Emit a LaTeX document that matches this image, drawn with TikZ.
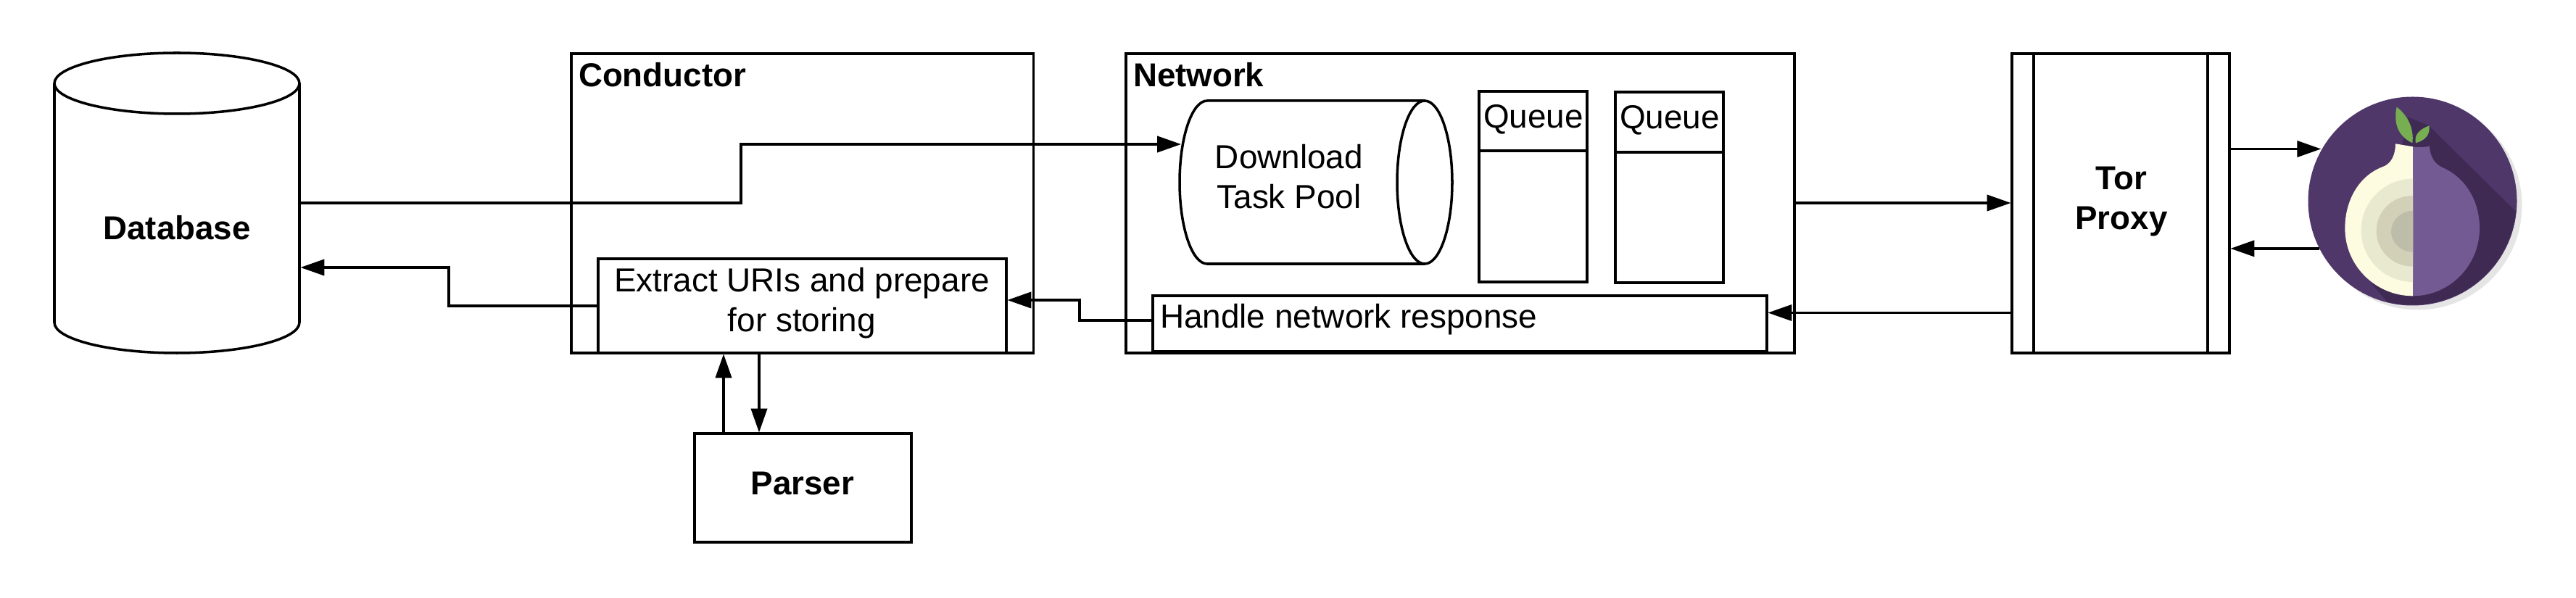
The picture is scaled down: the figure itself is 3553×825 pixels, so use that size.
\documentclass[tikz,border=0pt]{standalone}
\usepackage{fontspec}
\setmainfont{Liberation Sans}
\usetikzlibrary{arrows.meta}
\definecolor{torbg}{HTML}{50376A}
\definecolor{torshade}{HTML}{3F2A54}
\definecolor{torpurple}{HTML}{735A93}
\definecolor{torcream}{HTML}{FDFCE0}
\definecolor{torringa}{HTML}{E9E9D0}
\definecolor{torringb}{HTML}{D2D1B8}
\definecolor{torringc}{HTML}{BEBDAA}
\definecolor{torleaf}{HTML}{78AE52}
\definecolor{torcast}{HTML}{E5E5E5}
\tikzset{
  outline/.style={line width=1pt,draw=black},
  boxnode/.style 2 args={outline,rectangle,inner sep=0pt,outer sep=0pt,minimum width=#1*0.01cm,minimum height=#2*0.01cm},
  ghostnode/.style 2 args={rectangle,inner sep=0pt,outer sep=0pt,minimum width=#1*0.01cm,minimum height=#2*0.01cm},
  plain/.style={inner sep=0pt,outer sep=0pt,anchor=base,font=\fontsize{13.05pt}{15.65pt}\selectfont,align=center},
  strong/.style={plain,font=\fontsize{13pt}{15.65pt}\selectfont\bfseries},
  link/.style={line width=1pt,draw=black,-{Triangle[length=9.4pt,width=6.3pt]},shorten >=0.4pt},
}
\begin{document}
\begin{tikzpicture}[x=0.01cm,y=-0.01cm]
\useasboundingbox (0,0) rectangle (3553,825);

% Database
\node[ghostnode={338}{414}] (db) at (244,280) {};
\draw[outline] (75,115) -- (75,445) .. controls (75,468) and (151,487) .. (244,487) .. controls (337,487) and (413,468) .. (413,445) -- (413,115);
\draw[outline] (75,115) .. controls (75,92) and (151,73) .. (244,73) .. controls (337,73) and (413,92) .. (413,115) .. controls (413,138) and (337,157) .. (244,157) .. controls (151,157) and (75,138) .. (75,115) -- cycle;
\node[strong] (dbtext) at (244,331) {Database};

% Conductor
\node[boxnode={637.5}{413}] (conductor) at (1106.75,280.5) {};
\node[strong,anchor=base west] (conductortext) at (798,120) {Conductor};
\node[boxnode={563}{130}] (extract) at (1106.5,422) {};
\node[plain] (extracttext) at (1106,458) {Extract URIs and prepare\\for storing};

% Parser
\node[boxnode={299}{150}] (parser) at (1107.5,673) {};
\node[strong] (parsertext) at (1107,683) {Parser};

% Network
\node[boxnode={922}{413}] (network) at (2014,280.5) {};
\node[strong,anchor=base west] (networktext) at (1563,120) {Network};
\node[ghostnode={376}{225}] (pool) at (1815,251.5) {};
\draw[outline] (1965,139) -- (1665,139) .. controls (1644,139) and (1627,189.5) .. (1627,251.5) .. controls (1627,313.5) and (1644,364) .. (1665,364) -- (1965,364);
\draw[outline] (1965,139) .. controls (1986,139) and (2003,189.5) .. (2003,251.5) .. controls (2003,313.5) and (1986,364) .. (1965,364) .. controls (1944,364) and (1927,313.5) .. (1927,251.5) .. controls (1927,189.5) and (1944,139) .. (1965,139) -- cycle;
\node[plain] (pooltext) at (1778,288) {Download\\Task Pool};

\node[boxnode={149}{82}] (queueahead) at (2114.5,167) {};
\node[boxnode={149}{181}] (queueabody) at (2114.5,298.5) {};
\node[plain] (queueatext) at (2115,177) {Queue};
\node[boxnode={149}{83}] (queuebhead) at (2302.5,168.5) {};
\node[boxnode={149}{180}] (queuebbody) at (2302.5,300) {};
\node[plain] (queuebtext) at (2303,178) {Queue};

\node[boxnode={847}{77}] (handle) at (2013.5,446.5) {};
\node[plain,anchor=base west] (handletext) at (1600,453) {Handle network response};

% Tor proxy
\node[boxnode={300}{413}] (proxy) at (2925,280.5) {};
\node[boxnode={240}{413}] (proxyin) at (2925,280.5) {};
\node[strong] (proxytext) at (2926,317) {Tor\\Proxy};

% Tor logo
\fill[torcast] (3334.5,283.5) circle[radius=144];
\node[circle,fill=torbg,inner sep=0pt,outer sep=0pt,minimum size=288*0.01cm] (tor) at (3327.5,277.5) {};
\begin{scope}[shift={(3050,80)},x=0.01cm/3,y=-0.01cm/3]
  \begin{scope}
    \clip (832,592) circle[radius=430];
    \fill[torshade] (815,245) -- (900,280) -- (1275,650) -- (1275,1030) -- (745,1030) -- (660,930) -- cycle;
  \end{scope}
  \fill[torcream] (834,367) -- (762,355) .. controls (762,400) and (745,440) .. (705,452) .. controls (610,490) and (553,590) .. (553,705) .. controls (553,860) and (680,985) .. (834,985) -- cycle;
  \fill[torpurple] (834,367) .. controls (860,371) and (880,370) .. (903,365) .. controls (905,410) and (925,440) .. (960,455) .. controls (1050,495) and (1110,590) .. (1110,705) .. controls (1110,860) and (985,985) .. (834,985) -- cycle;
  \fill[torringa] (834,500) .. controls (716,500) and (620,595) .. (620,713) .. controls (620,831) and (716,927) .. (834,927) -- cycle;
  \fill[torringb] (834,570) .. controls (751,570) and (683,632) .. (683,717) .. controls (683,798) and (751,863) .. (834,863) -- cycle;
  \fill[torringc] (834,633) .. controls (784,633) and (744,672) .. (744,718) .. controls (744,765) and (784,803) .. (834,803) -- cycle;
  \fill[torleaf] (767,203) .. controls (755,260) and (765,320) .. (832,352) .. controls (840,290) and (810,235) .. (767,203) -- cycle;
  \fill[torleaf] (902,280) .. controls (860,295) and (838,320) .. (846,352) .. controls (885,340) and (905,320) .. (902,280) -- cycle;
\end{scope}

% Connectors
\coordinate (dbbend) at (1022,280);
\draw[link,shorten >=-0.6pt] (db.east |- dbbend) -- (dbbend) |- (pool.west |- 0,199);
\coordinate (storebend) at (619,422);
\draw[link] (extract.west |- storebend) -- (storebend) |- (db.east |- 0,369);
\draw[link] (parser.north -| 998,0) -- (extract.south -| 998,0);
\draw[link] (extract.south -| 1047,0) -- (parser.north -| 1047,0);
\coordinate (handlebend) at (1489,442);
\draw[link] (handle.west |- handlebend) -- (handlebend) |- (extract.east |- 0,414);
\draw[link] (network.east |- 0,280) -- (proxy.west |- 0,280);
\draw[link] (proxy.west |- 0,431.5) -- (handle.east |- 0,431.5);
\draw[link] (proxy.east |- tor.150.7) -- (tor.150.7);
\draw[link] (tor.207.5) -- (proxy.east |- tor.207.5);
\end{tikzpicture}
\end{document}
